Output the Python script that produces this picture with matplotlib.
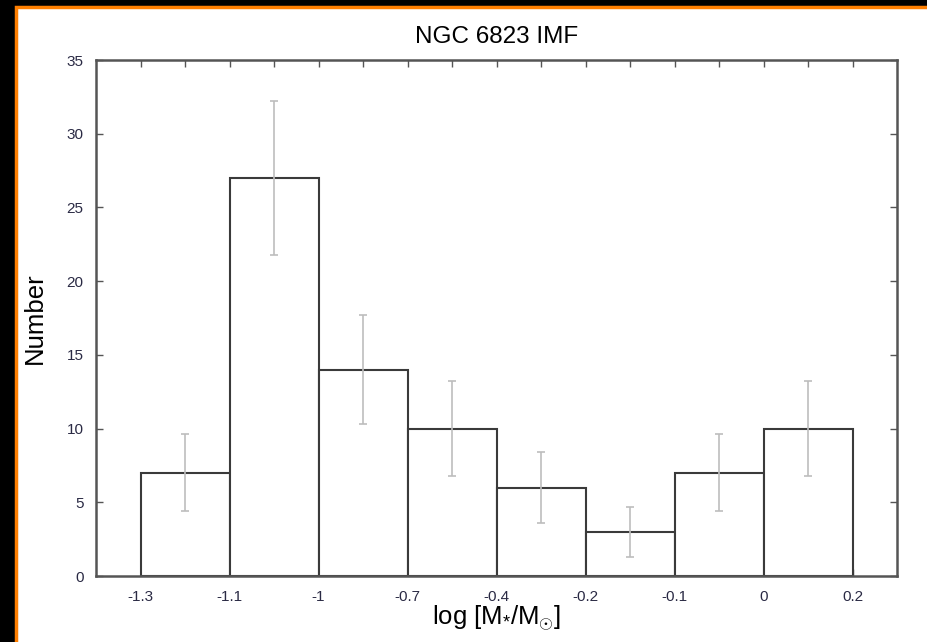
import numpy as np
import matplotlib.pyplot as plt
from matplotlib.patches import Rectangle
from matplotlib.ticker import FixedLocator, MultipleLocator

plt.rcParams['font.family'] = ['Liberation Sans', 'DejaVu Sans']
plt.rcParams['mathtext.fontset'] = 'custom'
plt.rcParams['mathtext.rm'] = 'Liberation Sans'
plt.rcParams['mathtext.it'] = 'Liberation Sans'

# bin edges (log mass) and counts per bin
bin_edges = ['-1.3', '-1.1', '-1', '-0.7', '-0.4', '-0.2', '-0.1', '0', '0.2']
counts = [7, 27, 14, 10, 6, 3, 7, 10]
count_err = [2.6, 5.2, 3.7, 3.2, 2.4, 1.7, 2.6, 3.2]

fig = plt.figure(figsize=(9.27, 6.42), dpi=100)
fig.patch.set_facecolor('black')
# white page with orange frame on the top and left
page = Rectangle((15.5 / 927, -0.1), 1.2, 1.1 - 6.5 / 642,
                 transform=fig.transFigure, facecolor='white',
                 edgecolor='#ff7f00', linewidth=2.5, zorder=-10)
fig.add_artist(page)

ax = fig.add_axes([96 / 927, 1 - 576 / 642, (897 - 96) / 927, (576 - 60) / 642])
ax.set_facecolor('white')

centers = np.arange(len(counts)) + 0.5
ax.bar(centers, counts, width=1.0, facecolor='white', edgecolor='#3a3a3a',
       linewidth=1.5, zorder=2)
ax.errorbar(centers, counts, yerr=count_err, fmt='none', ecolor='#bdbdbd',
            elinewidth=1.2, capsize=3, capthick=1.2, zorder=3)

ax.set_xlim(-0.5, 8.5)
ax.set_ylim(0, 35)
ax.xaxis.set_major_locator(FixedLocator(np.arange(len(bin_edges))))
ax.set_xticklabels(bin_edges)
ax.xaxis.set_minor_locator(FixedLocator(centers))
ax.yaxis.set_major_locator(MultipleLocator(5))

ax.tick_params(which='both', direction='in', top=True, right=True,
               color='#555555', labelsize=11, labelcolor='#2a2a44')
ax.tick_params(axis='x', pad=10)
ax.tick_params(axis='y', pad=9)
ax.tick_params(which='major', length=5, width=1)
ax.tick_params(which='minor', length=5, width=1)
for sp in ax.spines.values():
    sp.set_color('#555555')
    sp.set_linewidth(1.8)

ax.set_title('NGC 6823 IMF', fontsize=17.5, pad=12)
ax.set_xlabel(r'log [M$_{*}$/M$_{\odot}$]', fontsize=18.5, labelpad=0)
ax.set_ylabel('Number', fontsize=18.5, labelpad=14)

fig.savefig('out.png', dpi=100, facecolor=fig.get_facecolor())
